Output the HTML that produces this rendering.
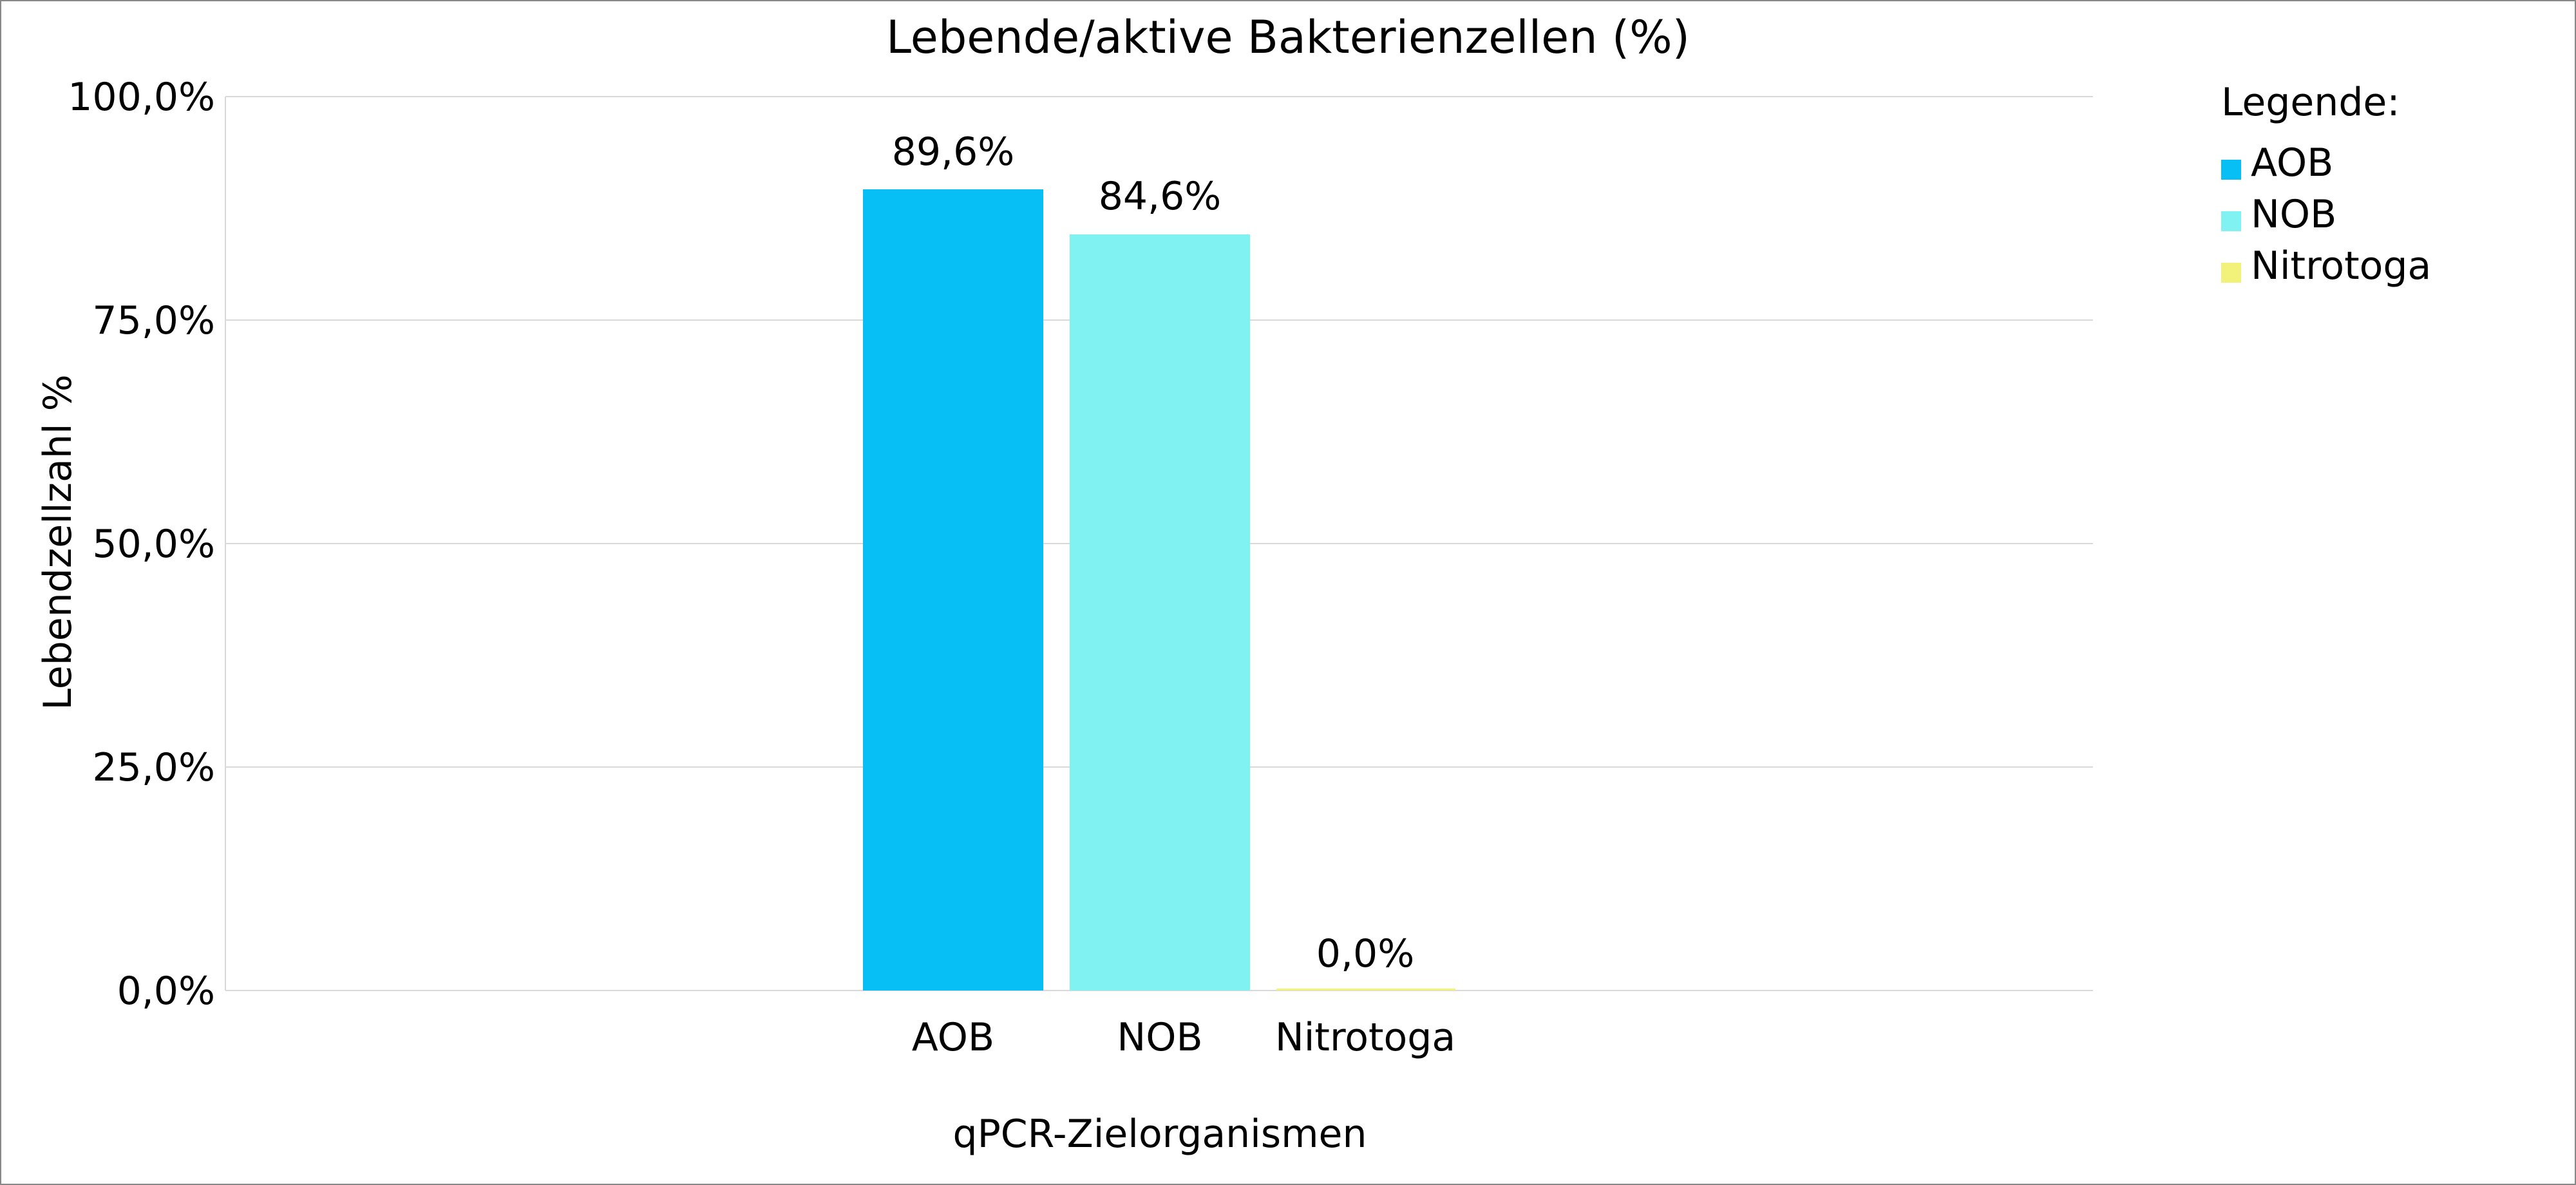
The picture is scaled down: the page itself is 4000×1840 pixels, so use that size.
<!DOCTYPE html>
<html><head><style>
body{margin:0;background:#fff}
svg{display:block}
text{font-family:"DejaVu Sans","Liberation Sans",sans-serif;fill:#000}
</style></head><body>
<svg width="4000" height="1840" xmlns="http://www.w3.org/2000/svg">
<rect x="1" y="1" width="3998" height="1838" fill="#fff" stroke="#888" stroke-width="2"/>
<g stroke="#d9d9d9" stroke-width="2">
<line x1="350" y1="150" x2="3250" y2="150"/>
<line x1="350" y1="497" x2="3250" y2="497"/>
<line x1="350" y1="844" x2="3250" y2="844"/>
<line x1="350" y1="1191" x2="3250" y2="1191"/>
<line x1="350" y1="1538" x2="3250" y2="1538"/>
<line x1="350" y1="150" x2="350" y2="1538"/>
</g>
<text x="2000" y="82" font-size="70" text-anchor="middle">Lebende/aktive Bakterienzellen (%)</text>
<g font-size="60" text-anchor="end">
<text x="334" y="171">100,0%</text>
<text x="334" y="518">75,0%</text>
<text x="334" y="865">50,0%</text>
<text x="334" y="1212">25,0%</text>
<text x="334" y="1559">0,0%</text>
</g>
<rect x="1340" y="294" width="280" height="1244" fill="#08bff5"/>
<rect x="1661" y="364" width="280" height="1174" fill="#80f2f2"/>
<rect x="1982" y="1535" width="278" height="3" fill="#f2f27a"/>
<g font-size="60" text-anchor="middle">
<text x="1480" y="256">89,6%</text>
<text x="1801" y="325">84,6%</text>
<text x="2120" y="1501">0,0%</text>
<text x="1480" y="1631">AOB</text>
<text x="1801" y="1631">NOB</text>
<text x="2120" y="1631">Nitrotoga</text>
<text x="1801" y="1781">qPCR-Zielorganismen</text>
</g>
<text transform="translate(110,842) rotate(-90)" font-size="60" text-anchor="middle">Lebendzellzahl %</text>
<text x="3449" y="179" font-size="60">Legende:</text>
<rect x="3449" y="248" width="31" height="31" fill="#08bff5"/>
<rect x="3449" y="328" width="31" height="31" fill="#80f2f2"/>
<rect x="3449" y="408" width="31" height="31" fill="#f2f27a"/>
<g font-size="60">
<text x="3495" y="273">AOB</text>
<text x="3495" y="353">NOB</text>
<text x="3495" y="433">Nitrotoga</text>
</g>
</svg>
</body></html>
